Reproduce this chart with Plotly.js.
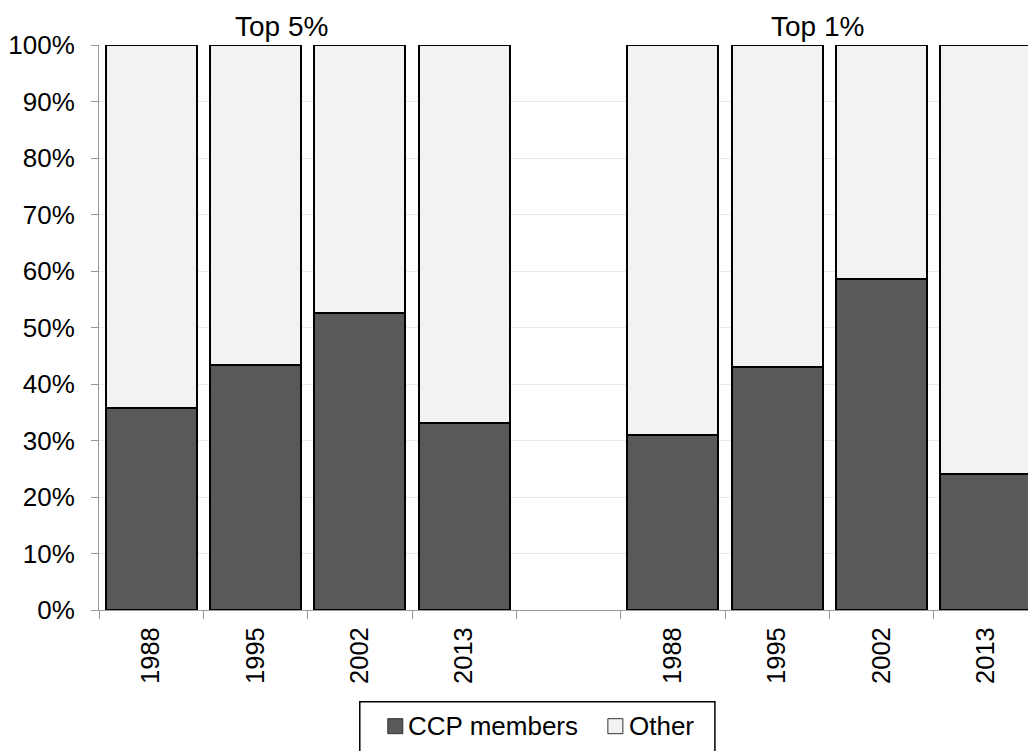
<!DOCTYPE html>
<html>
<head>
<meta charset="utf-8">
<script src="https://cdn.plot.ly/plotly-3.0.1.min.js"></script>
<style>
html,body{margin:0;padding:0;background:#fff;}
#chart{width:1028px;height:751px;}
</style>
</head>
<body>
<div id="chart"></div>
<script>
// ---- data ----
const years = ['1988', '1995', '2002', '2013'];
const groupTitles = ['Top 5%', 'Top 1%'];
const seriesNames = ['CCP members', 'Other'];
const ccpTop5 = [35.8, 43.4, 52.5, 33.1];
const otherTop5 = [64.2, 56.6, 47.5, 66.9];
const ccpTop1 = [31.0, 43.0, 58.5, 24.1];
const otherTop1 = [69.0, 57.0, 41.5, 75.9];
const yTicks = [0, 10, 20, 30, 40, 50, 60, 70, 80, 90, 100];
const yTickLabels = ['0%', '10%', '20%', '30%', '40%', '50%', '60%', '70%', '80%', '90%', '100%'];

// distinct category keys that render as the same year label
const catsTop5 = years.slice();
const catsTop1 = years.map(y => y + '\u200b');
const gapCat = '\u200b\u200b';
const categoryOrder = catsTop5.concat([gapCat], catsTop1);

const FONT = 'Liberation Sans, Arial, sans-serif';
const darkCol = '#595959';
const lightCol = '#f2f2f2';
const seriesColors = [darkCol, lightCol];

const traces = [
  {
    type: 'bar', name: seriesNames[0],
    x: catsTop5.concat(catsTop1), y: ccpTop5.concat(ccpTop1),
    marker: {color: seriesColors[0], line: {color: '#000', width: 2}},
    hoverinfo: 'skip', showlegend: false
  },
  {
    type: 'bar', name: seriesNames[1],
    x: catsTop5.concat(catsTop1), y: otherTop5.concat(otherTop1),
    marker: {color: seriesColors[1], line: {color: '#000', width: 2}},
    hoverinfo: 'skip', showlegend: false
  }
];

const L = 99.3, R = 0, T = 45.2, B = 751 - 610.3;
const plotW = 1028 - L - R;
const plotH = 751 - T - B;
const slot = 104.3;

function px2x(px) { return (px - L) / plotW; }
function px2y(py) { return (610.3 - py) / plotH; }

// ---- legend drawn as shapes + text (positions only) ----
const legBox = {x0: 360, x1: 715, y0: 702, y1: 770};
const legItems = [
  {sq: [388, 403], textX: 406},
  {sq: [608, 623], textX: 627}
];
const legSqY = [719, 734];

const shapes = [
  {type: 'rect', xref: 'paper', yref: 'paper',
   x0: px2x(legBox.x0), x1: px2x(legBox.x1), y0: px2y(legBox.y0), y1: px2y(legBox.y1),
   line: {color: '#000', width: 1.5}, fillcolor: '#fff', layer: 'above'}
];
const annotations = [
  {text: groupTitles[0], xref: 'paper', yref: 'paper', x: px2x(282), y: 1,
   xanchor: 'center', yanchor: 'bottom', yshift: 1, showarrow: false,
   font: {family: FONT, size: 28, color: '#000'}},
  {text: groupTitles[1], xref: 'paper', yref: 'paper', x: px2x(818), y: 1,
   xanchor: 'center', yanchor: 'bottom', yshift: 1, showarrow: false,
   font: {family: FONT, size: 28, color: '#000'}}
];
legItems.forEach((it, i) => {
  shapes.push({type: 'rect', xref: 'paper', yref: 'paper',
    x0: px2x(it.sq[0]), x1: px2x(it.sq[1]), y0: px2y(legSqY[0]), y1: px2y(legSqY[1]),
    line: {color: '#333', width: 1}, fillcolor: seriesColors[i], layer: 'above'});
  annotations.push({text: seriesNames[i], xref: 'paper', yref: 'paper',
    x: px2x(it.textX), y: px2y((legSqY[0] + legSqY[1]) / 2),
    xanchor: 'left', yanchor: 'middle', showarrow: false,
    font: {family: FONT, size: 26, color: '#000'}});
});

const layout = {
  width: 1028, height: 751,
  margin: {l: L, r: R, t: T, b: B, pad: 0},
  paper_bgcolor: '#fff', plot_bgcolor: '#fff',
  font: {family: FONT, size: 25, color: '#000'},
  barmode: 'stack', bargap: 0.125,
  showlegend: false,
  xaxis: {
    type: 'category', categoryorder: 'array', categoryarray: categoryOrder,
    range: [-0.5, -0.5 + plotW / slot],
    tickson: 'boundaries', ticks: 'outside', ticklen: 8, tickcolor: '#999', tickwidth: 1,
    tickangle: -90, showgrid: false, showline: true, linecolor: '#999', linewidth: 1,
    tickfont: {family: FONT, size: 25.5, color: '#000'},
    ticklabelstandoff: 6,
    zeroline: false, fixedrange: true
  },
  yaxis: {
    range: [0, 100], tickmode: 'array', tickvals: yTicks, ticktext: yTickLabels,
    ticks: 'outside', ticklen: 7, tickcolor: '#999', tickwidth: 1,
    showgrid: true, gridcolor: '#e9e9e9', gridwidth: 1,
    showline: true, linecolor: '#999', linewidth: 1, zeroline: false,
    tickfont: {family: FONT, size: 26, color: '#000'},
    ticklabelstandoff: 11, fixedrange: true
  },
  shapes: shapes,
  annotations: annotations
};

Plotly.newPlot('chart', traces, layout, {displayModeBar: false, staticPlot: true});
</script>
</body>
</html>
